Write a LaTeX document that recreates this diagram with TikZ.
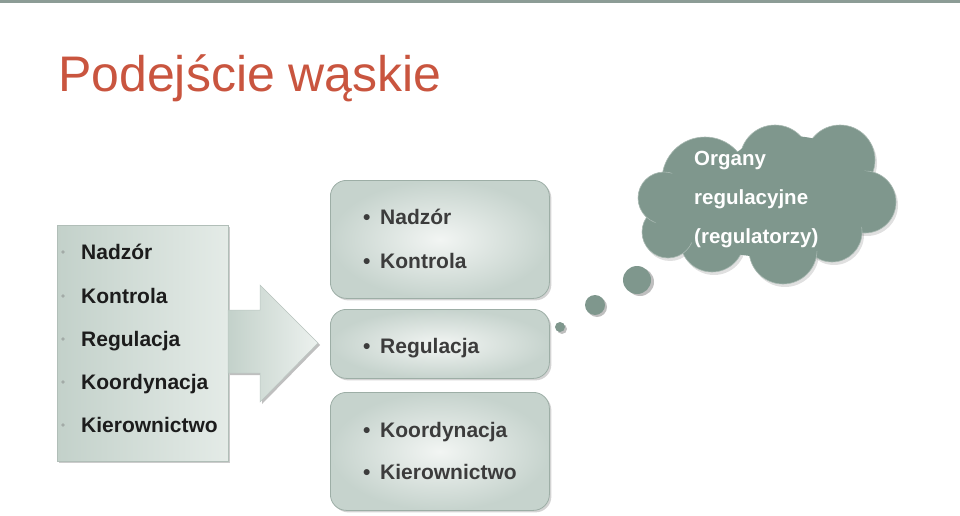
\documentclass[tikz,border=0pt]{standalone}
\usepackage{fontspec}
\setmainfont{Liberation Sans}
\usetikzlibrary{shadows}
\definecolor{titlecol}{HTML}{C9553F}
\definecolor{barcol}{HTML}{8C9C96}
\definecolor{boxdark}{HTML}{C3D1CA}
\definecolor{boxlight}{HTML}{E4EBE7}
\definecolor{rbedge}{HTML}{C6D3CD}
\definecolor{rbinner}{HTML}{F2F5F3}
\definecolor{rbline}{HTML}{9DAEA6}
\definecolor{cloudcol}{HTML}{7F978D}
\definecolor{cloudline}{HTML}{A9B9B2}
\definecolor{ltext}{HTML}{1C1C1C}
\definecolor{rtext}{HTML}{3C3C3C}
\definecolor{dotcol}{HTML}{A3ABA7}
\tikzset{
  itemfont/.style={font=\fontsize{21}{25}\selectfont\bfseries},
  litem/.style={itemfont, text=ltext, anchor=base west, inner sep=0pt},
  ritem/.style={itemfont, text=rtext, anchor=base west, inner sep=0pt},
  citem/.style={font=\fontsize{20.5}{24}\selectfont\bfseries, text=white, anchor=base west, inner sep=0pt},
  rbox/.style={draw=rbline, line width=0.8pt, rounded corners=16pt, inner color=rbinner, outer color=rbedge,
     drop shadow={shadow xshift=2pt, shadow yshift=-2pt, opacity=0.35}},
  bubble/.style={fill=cloudcol, draw=cloudline, line width=0.6pt},
  bshadow/.style={fill=black, opacity=0.25},
}
\begin{document}
\begin{tikzpicture}[x=1pt,y=-1pt]
\useasboundingbox (0,0) rectangle (960,516);
% top bar
\fill[barcol] (0,0) rectangle (960,3);
% title
\node[anchor=base west, inner sep=0pt, text=titlecol, font=\fontsize{50}{58}\selectfont] (title) at (58,92) {Podejście wąskie};

% left box
\node[draw=rbline!80, line width=0.5pt, left color=boxdark, right color=boxlight, minimum width=171pt, minimum height=236pt, anchor=north west, inner sep=0pt,
  drop shadow={shadow xshift=2pt, shadow yshift=-2pt, opacity=0.4}] (lbox) at (57,225) {};
\foreach \y/\t/\n in {259/Nadzór/l1, 303/Kontrola/l2, 346/Regulacja/l3, 389/Koordynacja/l4, 432/Kierownictwo/l5}{
  \fill[dotcol] (63,\y-7) circle (1.8pt);
  \node[litem] (\n) at (81,\y) {\t};
}

% arrow
\fill[black, opacity=0.25] (230,312) -- (262,312) -- (262,287) -- (320,345) -- (262,404) -- (262,375) -- (230,375) -- cycle;
\path[left color=boxdark, right color=boxlight!70!white, draw=rbline!70, line width=0.5pt]
  (228,310) -- (260,310) -- (260,285) -- (318,343) -- (260,402) -- (260,373) -- (228,373) -- cycle;
\coordinate (arrowtip) at (318,343);

% right boxes
\node[rbox, minimum width=219pt, minimum height=118pt, anchor=north west, inner sep=0pt] (rb1) at (330,180) {};
\node[rbox, minimum width=219pt, minimum height=69pt, anchor=north west, inner sep=0pt] (rb2) at (330,309) {};
\node[rbox, minimum width=219pt, minimum height=118pt, anchor=north west, inner sep=0pt] (rb3) at (330,392) {};
\foreach \y/\t/\n in {224/Nadzór/r1, 268/Kontrola/r2, 353/Regulacja/r3, 437/Koordynacja/r4, 479/Kierownictwo/r5}{
  \node[ritem] (\n b) at (363,\y) {•};
  \node[ritem] (\n) at (380,\y) {\t};
}

% thought bubbles
\fill[bshadow] (562,329) circle (5);
\fill[bshadow] (597,307) circle (10);
\fill[bshadow] (640,282) circle (14);
\node[circle, fill=cloudcol, minimum size=10pt, inner sep=0pt] (c1) at (560,327) {};
\node[circle, fill=cloudcol, minimum size=20pt, inner sep=0pt] (c2) at (595,305) {};
\node[circle, fill=cloudcol, minimum size=28pt, inner sep=0pt] (c3) at (637,280) {};

% cloud shadow
\begin{scope}[shift={(2,3)}]
\foreach \cx/\cy/\r in {705/180/43, 775/160/35, 840/160/35, 865/202/31, 832/232/30, 783/250/34, 712/240/32, 668/232/26, 664/198/26}{
  \fill[bshadow, opacity=0.12] (\cx,\cy) circle (\r);
}
\end{scope}
% cloud
\foreach \cx/\cy/\r in {705/180/43, 775/160/35, 840/160/35, 865/202/31, 832/232/30, 783/250/34, 712/240/32, 668/232/26, 664/198/26}{
  \path[bubble] (\cx,\cy) circle (\r);
}
\fill[cloudcol] (770,205) ellipse (100 and 52);
\fill[cloudcol] (700,205) ellipse (50 and 38);
\fill[cloudcol] (845,198) ellipse (38 and 32);
\fill[cloudcol] (790,170) ellipse (62 and 34);
\node[citem] (o1) at (694,165) {Organy};
\node[citem] (o2) at (694,204) {regulacyjne};
\node[citem] (o3) at (694,243) {(regulatorzy)};
\end{tikzpicture}
\end{document}
